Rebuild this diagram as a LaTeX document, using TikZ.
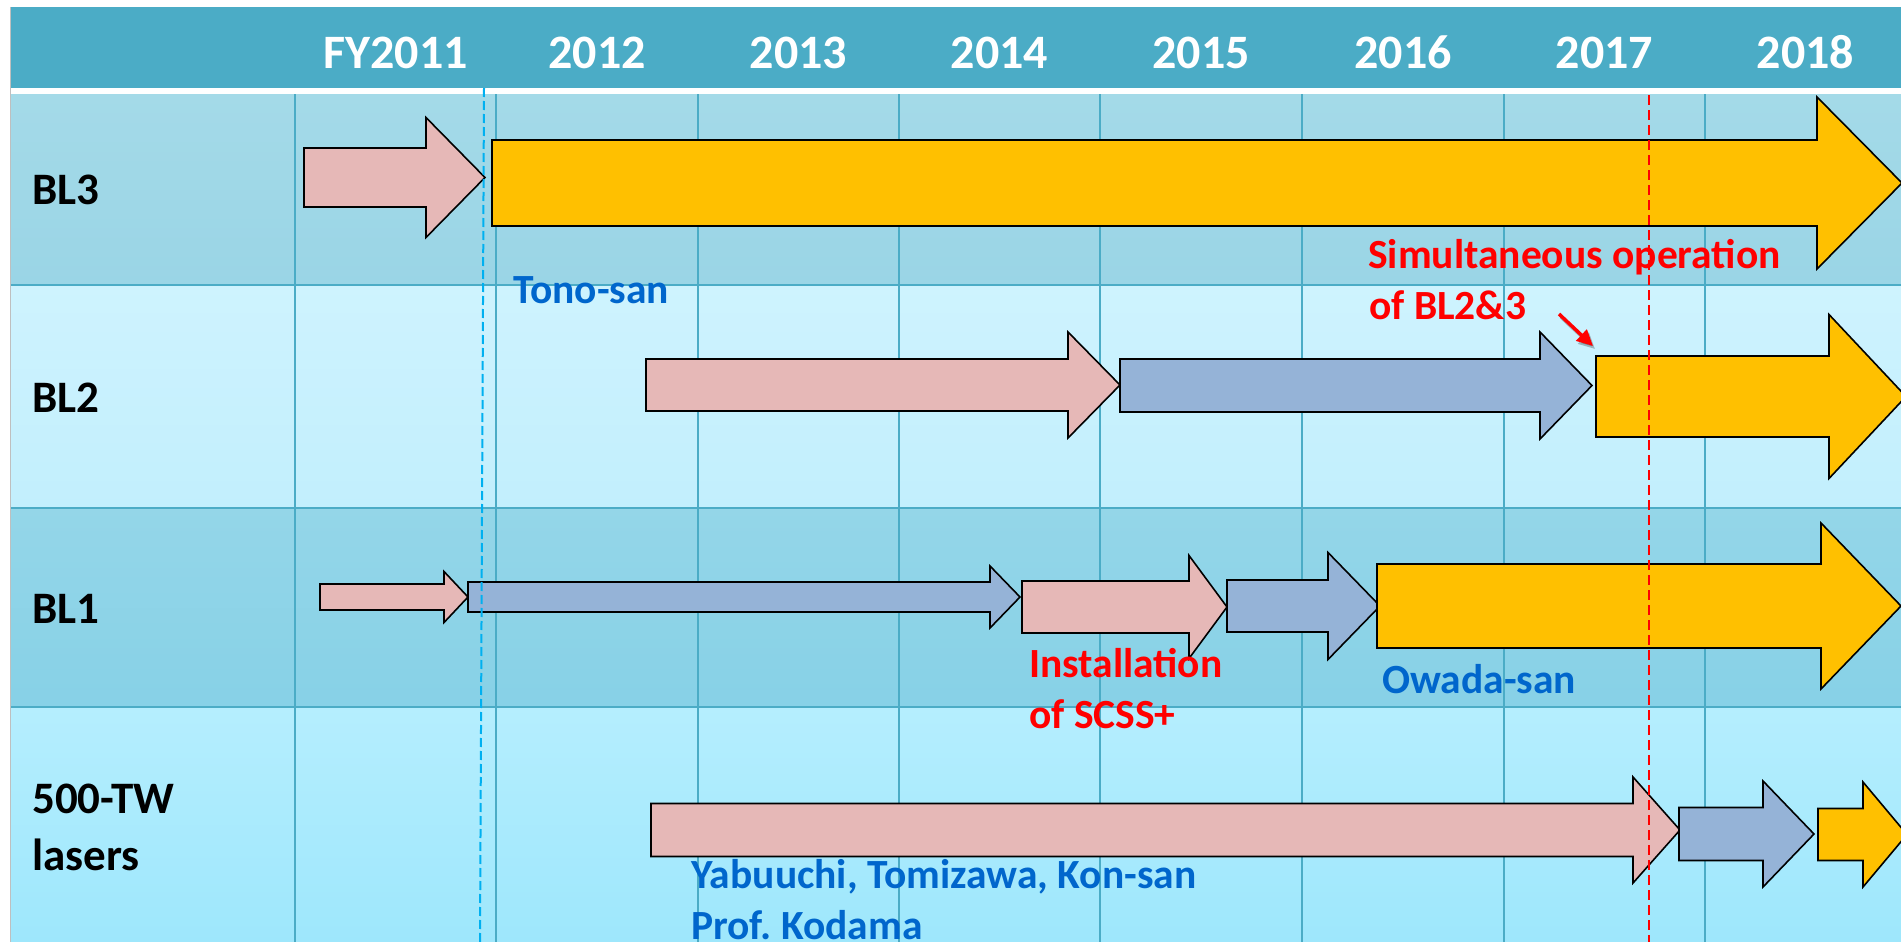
\documentclass[tikz,border=0pt]{standalone}
\usepackage{fontspec}
\setmainfont{Carlito}
\usetikzlibrary{arrows.meta}
\definecolor{hdr}{HTML}{4BACC6}
\definecolor{gridc}{HTML}{4BACC6}
\definecolor{rthreet}{HTML}{A4DAE8}
\definecolor{rthreeb}{HTML}{9AD5E6}
\definecolor{rtwot}{HTML}{CEF3FE}
\definecolor{rtwob}{HTML}{C2EFFD}
\definecolor{ronet}{HTML}{94D6E8}
\definecolor{roneb}{HTML}{87D1E7}
\definecolor{rzerot}{HTML}{B5EEFE}
\definecolor{rzerob}{HTML}{9EE7FC}
\definecolor{apink}{HTML}{E6B8B7}
\definecolor{ablue}{HTML}{95B3D7}
\definecolor{aorange}{HTML}{FFC000}
\definecolor{noteblue}{HTML}{0066CC}
\definecolor{dashblue}{HTML}{00B0F0}
\newcommand{\blockarr}[7]{\draw[arrowbox,fill=#1] (#2,#5-#6) -- (#3,#5-#6) -- (#3,#5-#7) -- (#4,#5) -- (#3,#5+#7) -- (#3,#5+#6) -- (#2,#5+#6) -- cycle;}
\frenchspacing
\begin{document}
\begin{tikzpicture}[x=1pt,y=-1pt,
  hdrtext/.style={text=white, font=\fontsize{48}{56}\selectfont\bfseries, anchor=base, inner sep=0pt},
  rowlabel/.style={text=black, font=\fontsize{45}{54}\selectfont\bfseries, anchor=base west, inner sep=0pt},
  bluenote/.style={text=noteblue, font=\fontsize{41.5}{50}\selectfont\bfseries, anchor=base west, inner sep=0pt},
  rednote/.style={text=red, font=\fontsize{41.5}{50}\selectfont\bfseries, anchor=base west, inner sep=0pt},
  arrowbox/.style={draw=black, line width=1.6pt, line join=miter},
  gridline/.style={draw=gridc, line width=1.6pt},
  rowline/.style={draw=gridc, line width=2.6pt},
  bluedash/.style={draw=dashblue, line width=2pt, dash pattern=on 9pt off 4pt},
  reddash/.style={draw=red, line width=2pt, dash pattern=on 10pt off 5pt}]
\useasboundingbox (0,0) rectangle (1901,942);
\clip (0,0) rectangle (1901,942);
\fill[white] (0,0) rectangle (1901,942);
% header
\fill[hdr] (10,7) rectangle (1901,88);
% rows
\shade[top color=rthreet, bottom color=rthreeb] (10,94) rectangle (1901,285);
\shade[top color=rtwot, bottom color=rtwob] (10,285) rectangle (1901,508);
\shade[top color=ronet, bottom color=roneb] (10,508) rectangle (1901,707);
\shade[top color=rzerot, bottom color=rzerob] (10,707) rectangle (1901,942);
% grid
\foreach \x in {295,496,698,899,1100,1302,1504,1705} \draw[gridline] (\x,94) -- (\x,942);
\foreach \y in {285,508,707} \draw[rowline] (10,\y) -- (1901,\y);
\draw[black!25, line width=1pt] (10,7) -- (10,942);
% header texts
\node[hdrtext] (fy11) at (395.5,69) {FY2011};
\node[hdrtext] (y12) at (597,69) {2012};
\node[hdrtext] (y13) at (798.5,69) {2013};
\node[hdrtext] (y14) at (999.5,69) {2014};
\node[hdrtext] (y15) at (1201,69) {2015};
\node[hdrtext] (y16) at (1403,69) {2016};
\node[hdrtext] (y17) at (1604.5,69) {2017};
\node[hdrtext] (y18) at (1805.5,69) {2018};
% row labels
\node[rowlabel] (bl3) at (32,204) {BL3};
\node[rowlabel] (bl2) at (32,412) {BL2};
\node[rowlabel] (bl1) at (32,623) {BL1};
\node[rowlabel] (tw) at (32,813) {500-TW};
\node[rowlabel] (tw2) at (32,870) {lasers};
% arrows: fill, xleft, xheadbase, xtip, ycenter, body half, head half
\blockarr{apink}{304}{426}{485}{177.5}{29.5}{60}
\blockarr{aorange}{492}{1817}{1902}{183}{43}{86}
\blockarr{apink}{646}{1068}{1120}{385}{26}{53}
\blockarr{ablue}{1120}{1540}{1592}{385.5}{26.5}{53.5}
\blockarr{aorange}{1596}{1829}{1906}{396.5}{40.5}{82}
\blockarr{apink}{320}{444}{468}{597}{13}{25.5}
\blockarr{ablue}{468}{990}{1020}{597}{15}{31}
\blockarr{apink}{1022}{1189}{1227}{607}{26}{51.5}
\blockarr{ablue}{1227}{1328}{1380}{606}{26}{53.5}
\blockarr{aorange}{1377}{1821}{1901}{606}{42}{83}
\blockarr{apink}{651}{1633}{1680}{830}{26.5}{53}
\blockarr{ablue}{1679}{1763}{1814}{834}{26.5}{53}
\blockarr{aorange}{1818}{1863}{1907}{834.5}{26}{52.5}
% dashed markers
\coordinate (bdtop) at (484,88);
\coordinate (bdbot) at (480,942);
\draw[bluedash] (bdtop) -- (bdbot);
\coordinate (rdtop) at (1649,95);
\coordinate (rdbot) at (1649,942);
\draw[reddash] (rdtop) -- (rdbot);
% notes
\node[bluenote] (tono) at (513,303) {Tono-san};
\node[bluenote] (owada) at (1382,693) {Owada-san};
\node[bluenote] (yab) at (691,888) {Yabuuchi, Tomizawa, Kon-san};
\node[bluenote] (kod) at (691,939) {Prof. Kodama};
\node[rednote] (sim) at (1368,268) {Simultaneous operation};
\node[rednote] (sim2) at (1369,319) {of BL2\&3};
\node[rednote] (inst) at (1029,677) {Installation};
\node[rednote] (inst2) at (1029,728) {of SCSS+};
% small red pointer
\coordinate (rt) at (1559,314);
\coordinate (rh) at (1593,346);
\draw[black, opacity=0.25, line width=3.5pt, -{Triangle[length=16pt,width=15pt]}] ([shift={(2,3)}]rt) -- ([shift={(2,3)}]rh);
\draw[red, line width=3.5pt, -{Triangle[length=16pt,width=15pt]}] (rt) -- (rh);
\end{tikzpicture}
\end{document}
